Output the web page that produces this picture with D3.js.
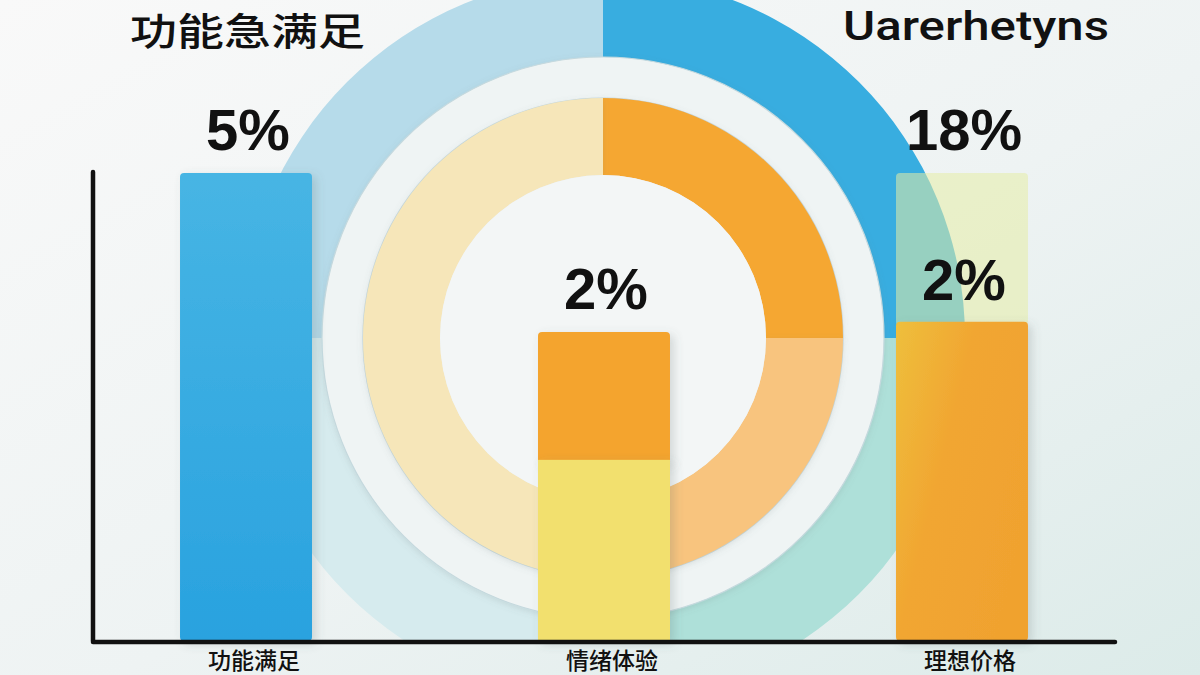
<!DOCTYPE html>
<html>
<head>
<meta charset="utf-8">
<script src="https://cdn.jsdelivr.net/npm/d3@7"></script>
<style>
  html, body { margin: 0; padding: 0; overflow: hidden; }
  svg { display: block; }
</style>
</head>
<body>
<svg id="chart" width="1200" height="675"></svg>
<script>
// ---------------- data ----------------
const categories = ["功能满足", "情绪体验", "理想价格"];
const baseValues = [100, 38.7, 68.2];        // lower segment of each bar
const topValues  = [0, 27.3, 31.8];          // upper segment of each bar
const baseColors = ["#33a9e1", "#f2e06e", "#f1a431"];
const topColors  = ["none", "#f4a42e", "rgba(230,236,165,0.55)"];
const topLabels  = ["5%", "2%", "18%"];      // label above the whole bar
const baseLabels = ["", "", "2%"];           // label above the lower segment
const titleLeft  = "功能急满足";
const titleRight = "Uarerhetyns";
const outerRingValues = [25, 25, 25, 25];
const outerRingColors = ["#38ade0", "#aee0d9", "#d6ebee", "#b6dbea"];
const innerRingValues = [25, 25, 50];
const innerRingColors = ["#f5a733", "#f8c47e", "#f6e6b9"];

// ---------------- setup ----------------
const W = 1200, H = 675;
const svg = d3.select("#chart");
const defs = svg.append("defs");

const bg = defs.append("linearGradient").attr("id", "bg")
  .attr("x1", "0").attr("y1", "0").attr("x2", "1").attr("y2", "1");
bg.append("stop").attr("offset", "0%").attr("stop-color", "#f9f9f9");
bg.append("stop").attr("offset", "55%").attr("stop-color", "#eef3f3");
bg.append("stop").attr("offset", "100%").attr("stop-color", "#dcebe9");

const blueGrad = defs.append("linearGradient").attr("id", "blueGrad")
  .attr("x1", "0").attr("y1", "0").attr("x2", "0").attr("y2", "1");
blueGrad.append("stop").attr("offset", "0%").attr("stop-color", "#47b5e4");
blueGrad.append("stop").attr("offset", "100%").attr("stop-color", "#29a2df");

const orangeGrad = defs.append("linearGradient").attr("id", "orangeGrad")
  .attr("x1", "0").attr("y1", "0").attr("x2", "1").attr("y2", "0.6");
orangeGrad.append("stop").attr("offset", "0%").attr("stop-color", "#eebf3c");
orangeGrad.append("stop").attr("offset", "45%").attr("stop-color", "#f1a632");
orangeGrad.append("stop").attr("offset", "100%").attr("stop-color", "#f0a22f");

const shadow = defs.append("filter").attr("id", "shadow")
  .attr("x", "-20%").attr("y", "-20%").attr("width", "150%").attr("height", "150%");
shadow.append("feDropShadow").attr("dx", 4).attr("dy", 3).attr("stdDeviation", 5)
  .attr("flood-color", "#5a6a6a").attr("flood-opacity", 0.22);

const ringShadow = defs.append("filter").attr("id", "ringShadow")
  .attr("x", "-20%").attr("y", "-20%").attr("width", "140%").attr("height", "140%");
ringShadow.append("feDropShadow").attr("dx", 0).attr("dy", 2).attr("stdDeviation", 3)
  .attr("flood-color", "#6a7a7a").attr("flood-opacity", 0.18);

defs.append("clipPath").attr("id", "plotClip")
  .append("rect").attr("x", 0).attr("y", 0).attr("width", W).attr("height", 641);

svg.append("rect").attr("width", W).attr("height", H).attr("fill", "url(#bg)");

// ---------------- scales ----------------
const x = d3.scaleBand().domain(categories).range([58.3, 1149.7])
  .paddingInner(0.6313).paddingOuter(0.34);
const y = d3.scaleLinear().domain([0, 100]).range([641, 173]);
const bw = x.bandwidth();

// ---------------- rings ----------------
const cx = x(categories[1]) + bw / 2 - 1, cy = 338;
const ringG = svg.append("g").attr("clip-path", "url(#plotClip)")
  .append("g").attr("transform", `translate(${cx},${cy})`);

const pie = d3.pie().sort(null).value(d => d);
const outerArc = d3.arc().innerRadius(280).outerRadius(362);
ringG.selectAll("path.outer").data(pie(outerRingValues)).join("path")
  .attr("class", "outer").attr("d", outerArc)
  .attr("fill", (d, i) => outerRingColors[i]);

// light gap ring
ringG.append("path")
  .attr("d", d3.arc().innerRadius(240).outerRadius(281).startAngle(0).endAngle(2 * Math.PI)())
  .attr("fill", "#eff4f4").attr("stroke", "#c5d9de").attr("stroke-width", 1.2)
  .attr("filter", "url(#ringShadow)");

const innerArc = d3.arc().innerRadius(163).outerRadius(240);
ringG.selectAll("path.inner").data(pie(innerRingValues)).join("path")
  .attr("class", "inner").attr("d", innerArc)
  .attr("fill", (d, i) => innerRingColors[i])
  .attr("filter", "url(#ringShadow)");

ringG.append("circle").attr("r", 163).attr("fill", "#f3f6f6");

// ---------------- bars ----------------
const bars = svg.append("g");
categories.forEach((c, i) => {
  const x0 = x(c);
  const baseFill = i === 0 ? "url(#blueGrad)" : (i === 2 ? "url(#orangeGrad)" : baseColors[i]);
  if (topValues[i] > 0) {
    bars.append("rect")
      .attr("x", x0).attr("width", bw)
      .attr("y", y(baseValues[i] + topValues[i]))
      .attr("height", y(baseValues[i]) - y(baseValues[i] + topValues[i]) + 4)
      .attr("rx", 4)
      .attr("fill", topColors[i])
      .attr("filter", i === 2 ? null : "url(#shadow)");
  }
  bars.append("rect")
    .attr("x", x0).attr("width", bw)
    .attr("y", y(baseValues[i]))
    .attr("height", y(0) - y(baseValues[i]))
    .attr("rx", topValues[i] > 0 && i === 1 ? 0 : 4)
    .attr("fill", baseFill)
    .attr("filter", "url(#shadow)");
});

// ---------------- axes ----------------
const axisG = svg.append("g").attr("stroke", "#111").attr("stroke-width", 4.5)
  .attr("stroke-linecap", "round");
axisG.append("line").attr("x1", 93).attr("x2", 93).attr("y1", y(100) - 1).attr("y2", y(0));
axisG.append("line").attr("x1", 93).attr("x2", 1115).attr("y1", y(0) + 1).attr("y2", y(0) + 1);

// ---------------- labels ----------------
const labelFont = "'Liberation Sans', Arial, Helvetica, sans-serif";
const lab = svg.append("g").attr("font-family", labelFont).attr("font-weight", "bold")
  .attr("font-size", 58).attr("fill", "#111").attr("text-anchor", "middle");
categories.forEach((c, i) => {
  lab.append("text").attr("x", x(c) + bw / 2 + 2)
    .attr("y", y(baseValues[i] + topValues[i]) - 23).text(topLabels[i]);
  if (baseLabels[i]) {
    lab.append("text").attr("x", x(c) + bw / 2 + 2)
      .attr("y", y(baseValues[i]) - 22).text(baseLabels[i]);
  }
});

// category labels (shrunk so they fit fully below the axis)
svg.append("g").selectAll("text").data(categories).join("text")
  .attr("x", d => x(d) + bw / 2 + 8)
  .attr("y", 669)
  .attr("text-anchor", "middle")
  .attr("font-family", "'Noto Sans CJK SC', sans-serif")
  .attr("font-weight", 500)
  .attr("font-size", 23)
  .attr("fill", "#111")
  .text(d => d);

// titles
svg.append("text").attr("x", 130).attr("y", 45)
  .attr("font-family", "'Noto Sans CJK SC', sans-serif").attr("font-weight", 500)
  .attr("font-size", 38).attr("fill", "#111")
  .attr("textLength", 235).attr("lengthAdjust", "spacingAndGlyphs")
  .text(titleLeft);
svg.append("text").attr("x", 843).attr("y", 40)
  .attr("font-family", "Roboto, 'Open Sans', sans-serif").attr("font-weight", 500)
  .attr("font-size", 40).attr("fill", "#111")
  .attr("textLength", 266).attr("lengthAdjust", "spacingAndGlyphs")
  .text(titleRight);
</script>
</body>
</html>
